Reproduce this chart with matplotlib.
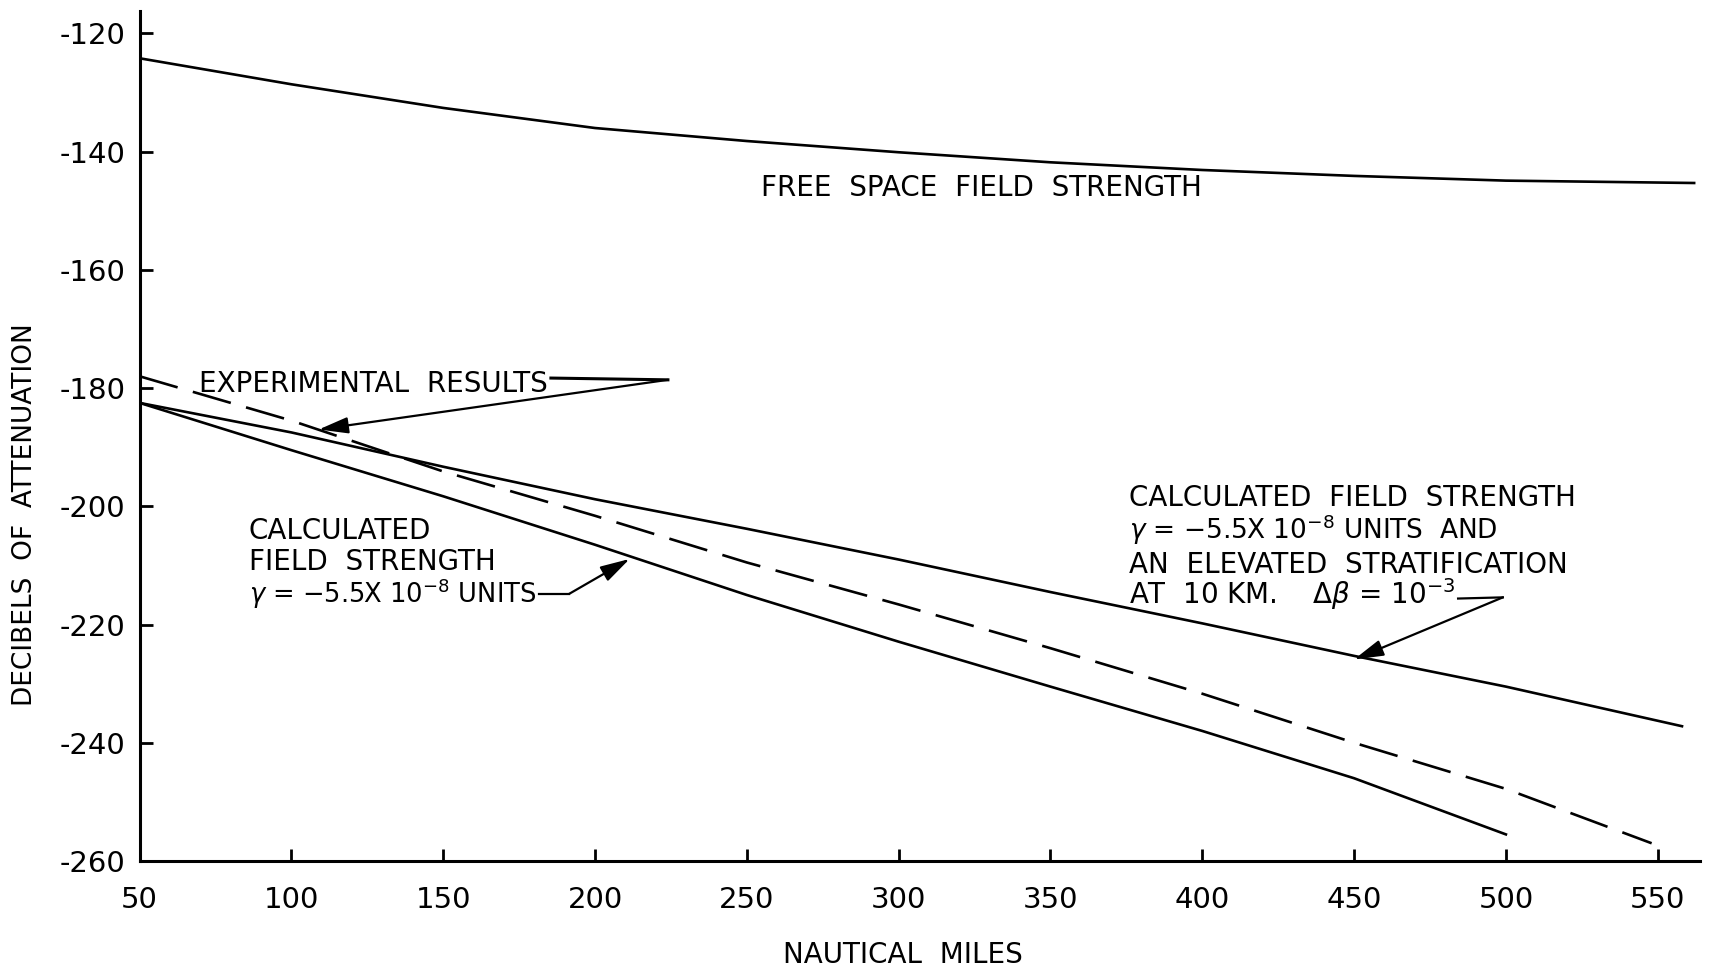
import numpy as np
import matplotlib.pyplot as plt

plt.rcParams['font.family'] = 'DejaVu Sans'
plt.rcParams['axes.unicode_minus'] = False

# Curves (nautical miles, dB)
free_x = [50, 100, 150, 200, 250, 300, 350, 400, 450, 500, 562]
free_y = [-124.2, -128.6, -132.6, -136.0, -138.2, -140.1, -141.8, -143.1, -144.1, -144.9, -145.3]

strat_x = [50, 100, 150, 200, 250, 300, 350, 400, 450, 500, 558]
strat_y = [-182.5, -187.5, -193.3, -198.8, -203.8, -209.0, -214.5, -219.8, -225.3, -230.5, -237.2]

calc_x = [50, 100, 150, 200, 250, 300, 350, 400, 450, 500]
calc_y = [-182.5, -190.5, -198.3, -206.5, -215.0, -222.9, -230.5, -238.0, -246.0, -255.5]

exp_x = [50, 100, 150, 200, 250, 300, 350, 400, 450, 500, 548]
exp_y = [-178.0, -185.5, -194.1, -201.6, -209.5, -216.6, -224.0, -231.7, -240.0, -247.8, -257.0]

x_ticks = [50, 100, 150, 200, 250, 300, 350, 400, 450, 500, 550]
y_ticks = [-260, -240, -220, -200, -180, -160, -140, -120]

fig = plt.figure(figsize=(17.11, 9.72), dpi=100)
ax = fig.add_axes([0.0816, 0.1142, 0.9121, 0.8745])

lw = 1.9
ax.plot(free_x, free_y, color='black', lw=lw)
ax.plot(strat_x, strat_y, color='black', lw=lw)
ax.plot(calc_x, calc_y, color='black', lw=lw)
ax.plot(exp_x, exp_y, color='black', lw=lw, dashes=(15, 6))

ax.set_xlim(50, 564)
ax.set_ylim(-260, -116.2)
for s in ['top', 'right']:
    ax.spines[s].set_visible(False)
for s in ['left', 'bottom']:
    ax.spines[s].set_linewidth(2.2)

ax.set_xticks(x_ticks)
ax.set_xticklabels([str(v) for v in x_ticks])
ax.set_yticks(y_ticks)
ax.set_yticklabels([str(v) for v in y_ticks])
ax.tick_params(axis='both', direction='in', length=9, width=2, labelsize=21)
ax.tick_params(axis='x', pad=18)
ax.tick_params(axis='y', pad=10)
ax.set_xlabel('NAUTICAL  MILES', fontsize=20)
ax.set_ylabel('DECIBELS  OF  ATTENUATION', fontsize=19)
ax.xaxis.set_label_coords(0.489, -0.094)
ax.yaxis.set_label_coords(-0.065, 0.407)

fs = 20
ax.text(254.7, -147.5, 'FREE  SPACE  FIELD  STRENGTH', fontsize=fs, va='baseline')
t_exp = ax.text(69.6, -180.6, 'EXPERIMENTAL  RESULTS', fontsize=fs, va='baseline')
ax.text(86.0, -205.5, 'CALCULATED', fontsize=fs, va='baseline')
ax.text(86.0, -210.7, 'FIELD  STRENGTH', fontsize=fs, va='baseline')
t_calc = ax.text(86.0, -216.4, r'$\gamma$ = $-$5.5X 10$^{-8}$ UNITS', fontsize=18.5, va='baseline')
ax.text(375.8, -200.0, 'CALCULATED  FIELD  STRENGTH', fontsize=fs, va='baseline')
ax.text(375.8, -205.6, r'$\gamma$ = $-$5.5X 10$^{-8}$ UNITS  AND', fontsize=19, va='baseline')
ax.text(375.8, -211.3, 'AN  ELEVATED  STRATIFICATION', fontsize=fs, va='baseline')
t_strat = ax.text(375.8, -216.6, r'AT  10 KM.    $\Delta\beta$ = 10$^{-3}$', fontsize=fs, va='baseline')

# find where each label ends so the leader lines start right after it
fig.canvas.draw()
inv = ax.transData.inverted()
def text_end(t):
    bb = t.get_window_extent()
    return inv.transform((bb.x1, bb.y0))[0]

arrow = dict(arrowstyle='-|>,head_length=0.9,head_width=0.25', color='black',
             lw=1.6, mutation_scale=20, shrinkA=0, shrinkB=0)

x0 = text_end(t_exp) + 1
ax.plot([x0, 224], [-178.3, -178.6], color='black', lw=2.2)
ax.annotate('', xy=(109, -187.0), xytext=(224, -178.6), arrowprops=arrow)

x0 = text_end(t_calc) + 1
ax.plot([x0, 191.5], [-214.8, -214.8], color='black', lw=1.6)
ax.annotate('', xy=(211.4, -208.9), xytext=(191.5, -214.8), arrowprops=arrow)

x0 = text_end(t_strat) + 1
ax.plot([x0, 499], [-215.6, -215.4], color='black', lw=1.6)
ax.annotate('', xy=(450, -225.9), xytext=(499, -215.4), arrowprops=arrow)

plt.savefig('out.png', dpi=100)
